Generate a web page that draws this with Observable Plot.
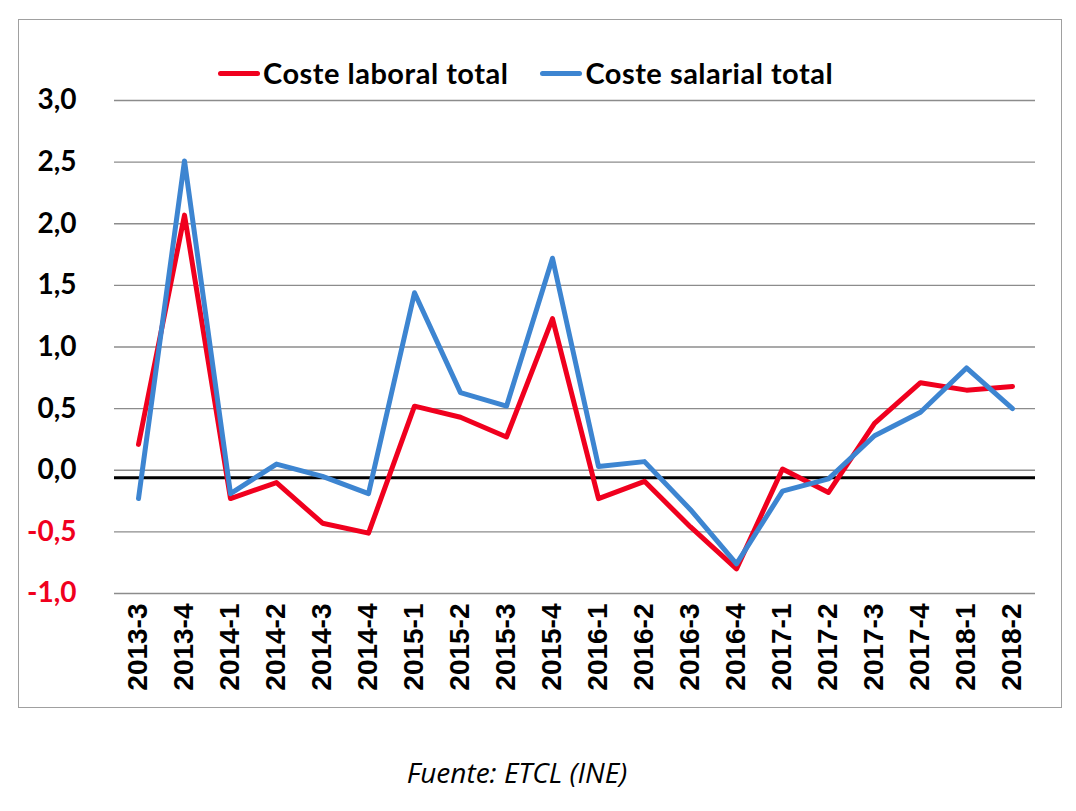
<!DOCTYPE html>
<html>
<head>
<meta charset="utf-8">
<script src="https://cdn.jsdelivr.net/npm/d3@7"></script>
<script src="https://cdn.jsdelivr.net/npm/@observablehq/plot@0.6"></script>
<style>
  html, body { margin: 0; padding: 0; background: #fff; }
  #page { position: relative; width: 1076px; height: 811px; overflow: hidden; }
  #frame { position: absolute; left: 18px; top: 19px; width: 1042px; height: 687px; border: 1px solid #a0a0a0; }
  #legend { position: absolute; left: 218px; top: 57px; display: flex; align-items: center; font-family: Lato, "Open Sans", sans-serif; font-weight: 700; font-size: 29px; letter-spacing: 0.5px; line-height: 32px; color: #000; }
  .item { display: flex; align-items: center; }
  .sw { width: 42px; height: 5px; border-radius: 3px; margin-right: 3px; }
  #chart { position: absolute; left: 0; top: 0; }
  #caption { position: absolute; left: 0; width: 1034px; top: 753px; text-align: center; font-family: "Open Sans", sans-serif; font-style: italic; font-size: 28px; color: #000; }
</style>
</head>
<body>
<div id="page">
  <div id="frame"></div>
  <div id="chart"></div>
  <div id="legend"></div>
  <div id="caption">Fuente: ETCL (INE)</div>
</div>
<script>
const periods = ["2013-3","2013-4","2014-1","2014-2","2014-3","2014-4","2015-1","2015-2","2015-3","2015-4","2016-1","2016-2","2016-3","2016-4","2017-1","2017-2","2017-3","2017-4","2018-1","2018-2"];
const laboral = [0.21, 2.07, -0.23, -0.10, -0.43, -0.51, 0.52, 0.43, 0.27, 1.23, -0.23, -0.09, -0.46, -0.80, 0.01, -0.18, 0.38, 0.71, 0.65, 0.68];
const salarial = [-0.23, 2.51, -0.19, 0.05, -0.05, -0.19, 1.44, 0.63, 0.52, 1.72, 0.03, 0.07, -0.32, -0.76, -0.17, -0.07, 0.28, 0.47, 0.83, 0.50];
const seriesNames = ["Coste laboral total", "Coste salarial total"];
const seriesColors = ["#f0001e", "#3d85d1"];
const yTicks = [-1, -0.5, 0, 0.5, 1, 1.5, 2, 2.5, 3];
const baseline = [-0.06];

const rows = [];
periods.forEach((p, i) => {
  rows.push({period: p, value: laboral[i], serie: seriesNames[0]});
});
periods.forEach((p, i) => {
  rows.push({period: p, value: salarial[i], serie: seriesNames[1]});
});

const fmt = d => d.toFixed(1).replace(".", ",");
const labelFont = "Lato, 'Open Sans', sans-serif";

const chart = Plot.plot({
  width: 1076,
  height: 720,
  marginTop: 100,
  marginBottom: 127,
  marginLeft: 114,
  marginRight: 41,
  style: {background: "transparent", overflow: "visible"},
  x: {type: "point", domain: periods, padding: 0.5, label: null},
  y: {domain: [-1, 3], label: null},
  color: {domain: seriesNames, range: seriesColors},
  marks: [
    Plot.gridY(yTicks, {stroke: "#8c8c8c", strokeOpacity: 1, strokeWidth: 1.3}),
    Plot.axisY(yTicks.filter(d => d >= 0), {
      tickSize: 0, tickPadding: 38, tickFormat: fmt, label: null,
      fontSize: 28, fontWeight: "bold", fontFamily: labelFont, fill: "#000"
    }),
    Plot.axisY(yTicks.filter(d => d < 0), {
      tickSize: 0, tickPadding: 38, tickFormat: fmt, label: null,
      fontSize: 28, fontWeight: "bold", fontFamily: labelFont, fill: "#f0001e"
    }),
    Plot.axisX(periods, {
      tickSize: 0, tickPadding: 10, tickRotate: -90, label: null,
      fontSize: 28, fontWeight: "bold", fontFamily: "'Liberation Sans', Arial, sans-serif", fill: "#000"
    }),
    Plot.ruleY(baseline, {stroke: "#000", strokeWidth: 3}),
    Plot.lineY(rows, {x: "period", y: "value", stroke: "serie", z: "serie", strokeWidth: 5, strokeLinejoin: "round", strokeLinecap: "round"})
  ]
});
document.getElementById("chart").appendChild(chart);

const legend = document.getElementById("legend");
seriesNames.forEach((name, i) => {
  const item = document.createElement("div");
  item.className = "item";
  if (i > 0) item.style.marginLeft = "32px";
  const sw = document.createElement("span");
  sw.className = "sw";
  sw.style.background = seriesColors[i];
  const t = document.createElement("span");
  t.textContent = name;
  item.appendChild(sw);
  item.appendChild(t);
  legend.appendChild(item);
});
</script>
</body>
</html>
